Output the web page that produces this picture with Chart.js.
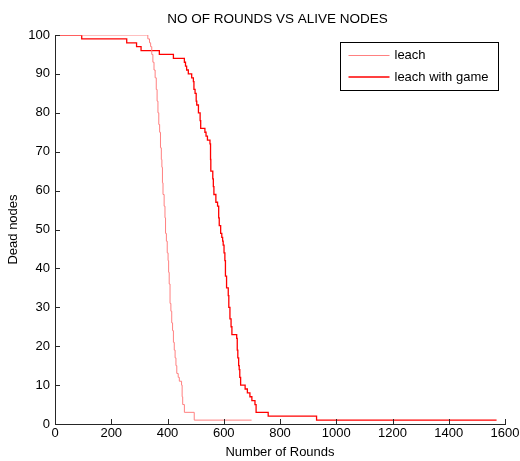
<!DOCTYPE html>
<html>
<head>
<meta charset="utf-8">
<script src="https://cdn.jsdelivr.net/npm/chart.js@4/dist/chart.umd.min.js"></script>
<style>
  html, body { margin: 0; padding: 0; background: #ffffff; }
  #wrap { width: 520px; height: 461px; }
</style>
</head>
<body>
<div id="wrap"><canvas id="c" width="520" height="461"></canvas></div>
<script>
// ---- data ----
const chartTitle = 'NO OF ROUNDS VS ALIVE NODES';
const xTitle = 'Number of Rounds';
const yTitle = 'Dead nodes';
const seriesNames = ['leach', 'leach with game'];

const leachRounds = [0, 326, 330, 336, 340, 344, 348, 352, 356, 360, 363, 366, 369, 372, 375, 378, 380, 382, 384, 388, 391, 393, 396, 399, 402, 404, 406, 409, 412, 415, 418, 421, 424, 427, 430, 433, 438, 442, 450, 452, 454, 460, 495, 699];
const leachNodes  = [100, 100, 99, 98, 97, 95, 93, 91, 89, 86, 83, 80, 77, 75, 71, 68, 66, 62, 59, 56, 53, 49, 47, 44, 42, 39, 36, 31, 29, 26, 24, 21, 19, 17, 15, 13, 12, 11, 10, 7, 5, 3, 1, 1];

const gameRounds = [0, 95, 255, 290, 306, 371, 421, 460, 464, 468, 474, 486, 492, 494, 498, 502, 504, 510, 516, 518, 533, 537, 542, 551, 553, 554, 561, 563, 565, 572, 578, 582, 584, 589, 593, 596, 598, 601, 604, 606, 610, 616, 618, 622, 626, 629, 646, 648, 650, 653, 655, 657, 660, 676, 684, 693, 700, 711, 715, 758, 930, 1570];
const gameNodes  = [100, 99, 98, 97, 96, 95, 94, 93, 92, 91, 90, 89, 88, 86, 85, 83, 82, 80, 78, 76, 75, 74, 73, 72, 68, 65, 63, 61, 59, 57, 56, 53, 51, 49, 48, 47, 46, 44, 42, 38, 35, 33, 30, 27, 25, 23, 22, 19, 17, 15, 14, 12, 10, 9, 8, 7, 6, 5, 3, 2, 1, 1];

const xTicks = [0, 200, 400, 600, 800, 1000, 1200, 1400, 1600];
const yTicks = [0, 10, 20, 30, 40, 50, 60, 70, 80, 90, 100];

const toPoints = (xs, ys) => xs.map((x, i) => ({ x: x, y: ys[i] }));

const FONT = "'Liberation Sans', Arial, sans-serif";
const AXIS_COLOR = '#262626';
const LEACH_COLOR = '#ff8080';
const GAME_COLOR = '#ff0000';

// title, inward tick marks + matlab-style legend box
const matlabAxes = {
  id: 'matlabAxes',
  afterDraw(chart) {
    const ctx = chart.ctx;
    const a = chart.chartArea;
    const xs = chart.scales.x, ys = chart.scales.y;
    ctx.save();

    // title (centred over the axes, like MATLAB)
    ctx.fillStyle = '#000000';
    ctx.font = '13.5px ' + FONT;
    ctx.textAlign = 'center';
    ctx.textBaseline = 'middle';
    ctx.fillText(chartTitle, (a.left + a.right) / 2 - 2.5, 19.5);

    ctx.strokeStyle = AXIS_COLOR;
    ctx.lineWidth = 1;
    ctx.beginPath();
    xs.ticks.forEach((t, i) => {
      const px = Math.round(xs.getPixelForTick(i)) + 0.5;
      ctx.moveTo(px, a.bottom);
      ctx.lineTo(px, a.bottom - 5);
    });
    ys.ticks.forEach((t, i) => {
      const py = Math.round(ys.getPixelForTick(i)) + 0.5;
      ctx.moveTo(a.left, py);
      ctx.lineTo(a.left + 5, py);
    });
    ctx.stroke();

    // legend box (top-right inside the axes)
    const bx = a.right - 164.5, by = a.top + 7.5, bw = 158, bh = 48;
    ctx.fillStyle = '#ffffff';
    ctx.fillRect(bx, by, bw, bh);
    ctx.strokeStyle = '#000000';
    ctx.lineWidth = 1;
    ctx.strokeRect(bx, by, bw, bh);
    const ds = chart.data.datasets;
    ctx.font = '13px ' + FONT;
    ctx.textBaseline = 'middle';
    ctx.textAlign = 'left';
    ds.forEach((d, i) => {
      const ly = by + 13 + i * 21.5;
      ctx.strokeStyle = d.borderColor;
      ctx.lineWidth = d.borderWidth;
      ctx.beginPath();
      ctx.moveTo(bx + 8, ly);
      ctx.lineTo(bx + 49, ly);
      ctx.stroke();
      ctx.fillStyle = '#000000';
      ctx.fillText(d.label, bx + 54, ly);
    });
    ctx.restore();
  }
};

new Chart(document.getElementById('c'), {
  type: 'line',
  data: {
    datasets: [
      {
        label: seriesNames[0],
        data: toPoints(leachRounds, leachNodes),
        borderColor: LEACH_COLOR,
        borderWidth: 1,
        pointRadius: 0,
        stepped: 'before',
        fill: false
      },
      {
        label: seriesNames[1],
        data: toPoints(gameRounds, gameNodes),
        borderColor: GAME_COLOR,
        borderWidth: 1.3,
        pointRadius: 0,
        stepped: 'before',
        fill: false
      }
    ]
  },
  options: {
    responsive: false,
    animation: false,
    layout: { padding: { left: 0, right: 15, top: 35, bottom: 0 } },
    plugins: {
      legend: { display: false },
      tooltip: { enabled: false },
      title: { display: false }
    },
    scales: {
      x: {
        type: 'linear',
        min: 0,
        max: 1600,
        afterBuildTicks: (s) => { s.ticks = xTicks.map(v => ({ value: v })); },
        afterFit: (s) => { s.height = 37; s.paddingLeft = 0; s.paddingRight = 0; },
        grid: { display: false, drawTicks: false },
        border: { display: true, color: AXIS_COLOR, width: 1 },
        ticks: {
          color: '#000000',
          font: { family: FONT, size: 13 },
          padding: 2,
          maxRotation: 0,
          autoSkip: false,
          callback: (v) => String(v)
        },
        title: {
          display: true,
          text: xTitle,
          color: '#000000',
          font: { family: FONT, size: 13 },
          padding: { top: 0, bottom: 1 }
        }
      },
      y: {
        type: 'linear',
        min: 0,
        max: 100,
        afterBuildTicks: (s) => { s.ticks = yTicks.map(v => ({ value: v })); },
        afterFit: (s) => { s.width = 55; s.paddingTop = 0; s.paddingBottom = 0; },
        grid: { display: false, drawTicks: false },
        border: { display: true, color: AXIS_COLOR, width: 1 },
        ticks: {
          color: '#000000',
          font: { family: FONT, size: 13 },
          padding: 5,
          autoSkip: false,
          callback: (v) => String(v)
        },
        title: {
          display: true,
          text: yTitle,
          color: '#000000',
          font: { family: FONT, size: 13 },
          padding: { top: 6, bottom: 0 }
        }
      }
    }
  },
  plugins: [matlabAxes]
});
</script>
</body>
</html>
